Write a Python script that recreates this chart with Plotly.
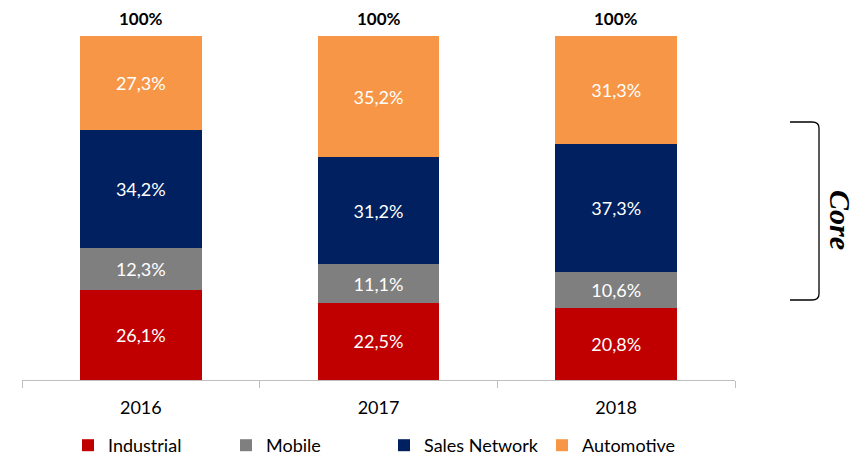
import plotly.graph_objects as go

years = ["2016", "2017", "2018"]
industrial = [26.1, 22.5, 20.8]
mobile = [12.3, 11.1, 10.6]
sales_network = [34.2, 31.2, 37.3]
automotive = [27.3, 35.2, 31.3]
totals = ["100%", "100%", "100%"]

series = [
    ("Industrial", industrial, "#C00000"),
    ("Mobile", mobile, "#7F7F7F"),
    ("Sales Network", sales_network, "#002060"),
    ("Automotive", automotive, "#F79646"),
]

OFF = 8  # page body margin
W, H = 868 - OFF, 456 - OFF
L, R, T, B = 22 - OFF, W - (735 - OFF), 36 - OFF, H - (380 - OFF)
pw, ph = W - L - R, H - T - B

def px_x(x):  # screen px -> paper
    return (x - OFF - L) / pw

def px_y(y):
    return (H - B - (y - OFF)) / ph

FONT = "Lato"

fig = go.Figure()
for name, vals, color in series:
    fig.add_trace(go.Bar(
        x=years, y=vals, name=name,
        marker=dict(color=color, line=dict(width=0)),
        text=[f"{v:.1f}%".replace(".", ",") for v in vals],
        textposition="inside", insidetextanchor="middle", textangle=0,
        textfont=dict(color="white", size=18, family=FONT),
        hoverinfo="skip",
    ))

for i, t in enumerate(totals):
    fig.add_annotation(x=i, y=100, text=f"<b>{t}</b>", showarrow=False,
                       yanchor="bottom", yshift=5,
                       font=dict(size=17, color="black", family=FONT))

# bracket
xa, xb, xc = px_x(790), px_x(812), px_x(819)
y1, y2, y3, y4 = px_y(122), px_y(128), px_y(294), px_y(300)
fig.add_shape(type="path", xref="paper", yref="paper",
              path=(f"M {xa},{y1} L {xb},{y1} Q {xc},{y1} {xc},{y2} "
                    f"L {xc},{y3} Q {xc},{y4} {xb},{y4} L {xa},{y4}"),
              line=dict(color="black", width=1.3))
fig.add_annotation(xref="paper", yref="paper", x=px_x(841), y=px_y(220),
                   xanchor="center", yanchor="middle",
                   text="<b>Core</b>", showarrow=False, textangle=90,
                   font=dict(family="Liberation Serif", size=30, color="black", style="italic"))

fig.update_layout(
    width=W, height=H, barmode="stack", bargap=0.487,
    margin=dict(l=L, r=R, t=T, b=B, autoexpand=False),
    plot_bgcolor="white", paper_bgcolor="white",
    showlegend=True,
    legend=dict(orientation="h", xref="container", yref="container",
                x=(84 - OFF - 16) / W, y=1 - (445 - OFF - 18) / H,
                xanchor="left", yanchor="top",
                font=dict(size=18, family=FONT, color="black"),
                entrywidth=113, entrywidthmode="pixels",
                traceorder="normal", itemclick=False),
    xaxis=dict(type="category", range=[-0.5, 2.5], showline=True, linecolor="#BFBFBF",
               linewidth=1, ticks="outside",
               tickson="boundaries", ticklen=7, tickcolor="#BFBFBF",
               tickfont=dict(size=18, family=FONT, color="black"),
               ticklabelstandoff=11),
    yaxis=dict(range=[0, 100], visible=False, showgrid=False),
)

fig.write_html("out.html")
